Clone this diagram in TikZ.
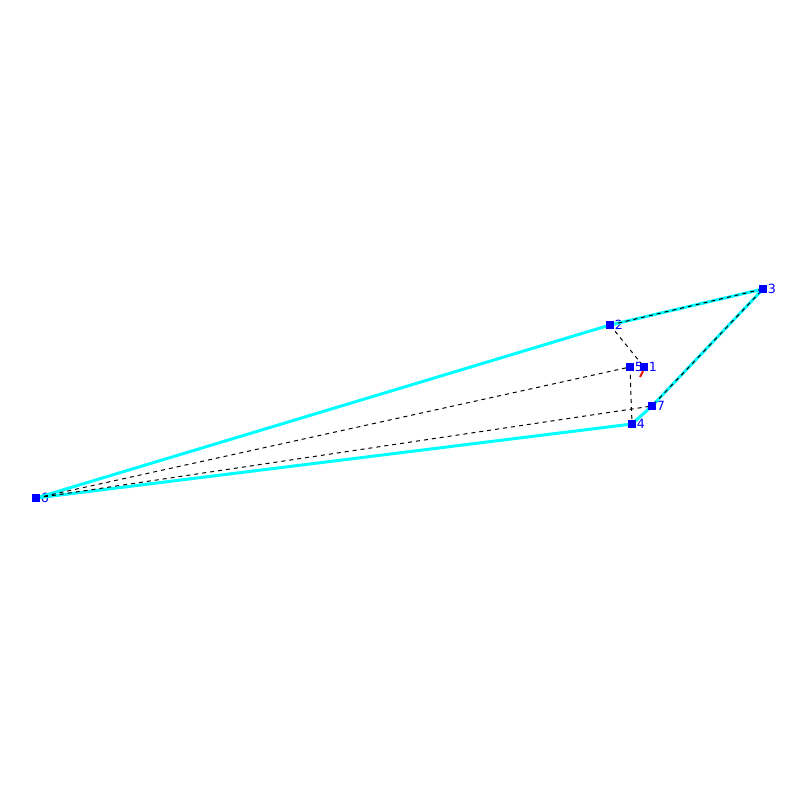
\documentclass[tikz,border=0pt]{standalone}
\usepackage{fontspec}
\setsansfont{DejaVu Sans}
\definecolor{aqua}{RGB}{0,255,255}
\definecolor{ptblue}{RGB}{0,0,255}
\definecolor{tickred}{RGB}{230,20,0}
\begin{document}
\begin{tikzpicture}[
    x=0.01cm, y=-0.01cm,
    vertex/.style={rectangle, fill=ptblue, inner sep=0pt, minimum size=0.07cm,
        label={[font=\sffamily\fontsize{3.6pt}{4pt}\selectfont, text=ptblue, inner sep=0.3pt, xshift=-0.01cm]right:#1}},
    edge/.style={aqua, line width=0.03cm},
    hidden/.style={black, line width=0.01cm, dash pattern=on 0.04cm off 0.04cm}
]
    \useasboundingbox (0,0) rectangle (800,800);
    % Points
    \node[vertex=1] (p1) at (644,367) {};
    \node[vertex=2] (p2) at (610,325) {};
    \node[vertex=3] (p3) at (763,289) {};
    \node[vertex=4] (p4) at (632,424) {};
    \node[vertex=5] (p5) at (630,367) {};
    \node[vertex=6] (p6) at (36,498) {};
    \node[vertex=7] (p7) at (652,406) {};
    \coordinate (r1) at (643,371);
    \coordinate (r2) at (640,377);

    % Outline
    \draw[edge] (p6.center) -- (p2.center) -- (p3.center) -- (p7.center) -- (p4.center) -- cycle;
    % Hidden edges
    \draw[hidden] (p2.center) -- (p1.center);
    \draw[hidden] (p2.center) -- (p3.center) -- (p7.center);
    \draw[hidden] (p6.center) -- (p5.center) -- (p4.center);
    \draw[hidden] (p6.center) -- (p7.center);
    \draw[tickred, line width=0.02cm] (r1) -- (r2);
    % Points on top
    \foreach \i in {1,...,7} \fill[ptblue] (p\i.south west) rectangle (p\i.north east);
\end{tikzpicture}
\end{document}
